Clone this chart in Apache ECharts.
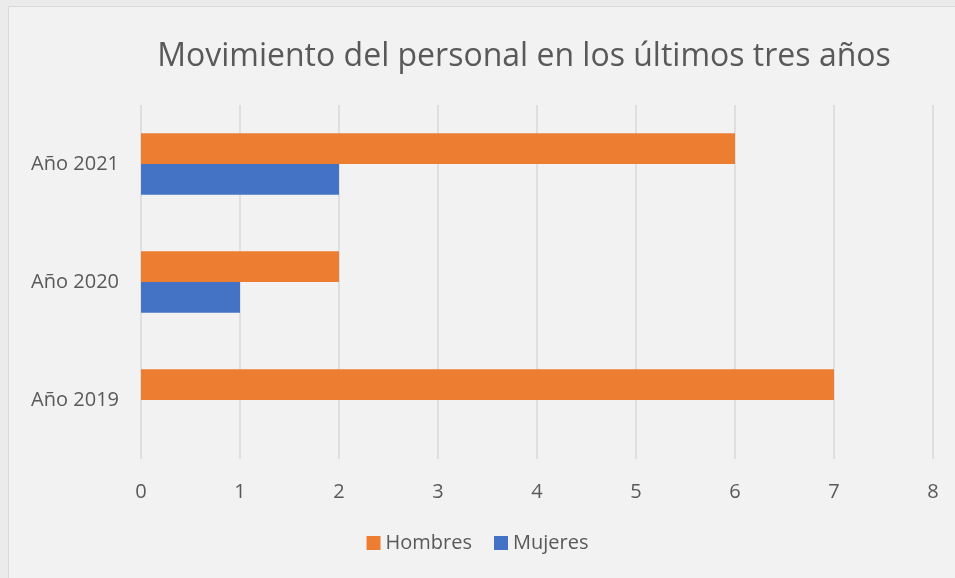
<!DOCTYPE html>
<html>
<head>
<meta charset="utf-8">
<script src="https://cdn.jsdelivr.net/npm/echarts@6/dist/echarts.min.js"></script>
<style>
  html, body { margin: 0; padding: 0; background: #ebebeb; }
  #main { width: 955px; height: 578px; }
</style>
</head>
<body>
<div id="main"></div>
<script>
var categories = ['Año 2019', 'Año 2020', 'Año 2021'];
var hombres = [7, 2, 6];
var mujeres = [0, 1, 2];
var xTicks = [0, 1, 2, 3, 4, 5, 6, 7, 8];

var chart = echarts.init(document.getElementById('main'));
var font = '"Open Sans", "Liberation Sans", sans-serif';

var option = {
  backgroundColor: '#ebebeb',
  textStyle: { fontFamily: font },
  graphic: [{
    type: 'rect',
    z: -10,
    shape: { x: 8.5, y: 6.5, width: 960, height: 580 },
    style: { fill: '#f2f2f2', stroke: '#d9d9d9', lineWidth: 1 }
  }],
  title: {
    text: 'Movimiento del personal en los últimos tres años',
    left: 519,
    textAlign: 'center',
    top: 36,
    textStyle: { fontFamily: font, fontSize: 32, fontWeight: 'normal', color: '#595959' }
  },
  legend: {
    bottom: 20,
    left: 'center',
    icon: 'rect',
    itemWidth: 14,
    itemHeight: 14,
    itemGap: 22,
    textStyle: { fontFamily: font, fontSize: 20, color: '#595959' },
    data: ['Hombres', 'Mujeres']
  },
  grid: { left: 141, right: 22, top: 105, bottom: 119, containLabel: false },
  xAxis: {
    type: 'value',
    min: xTicks[0],
    max: xTicks[xTicks.length - 1],
    interval: 1,
    axisLine: { show: false },
    axisTick: { show: false },
    axisLabel: { fontFamily: font, fontSize: 20, color: '#595959', margin: 23 },
    splitLine: { lineStyle: { color: '#d9d9d9', width: 1.5 } }
  },
  yAxis: {
    type: 'category',
    data: categories,
    axisLine: { show: false },
    axisTick: { show: false },
    axisLabel: { fontFamily: font, fontSize: 20, color: '#595959', margin: 22 }
  },
  series: [
    {
      name: 'Hombres',
      type: 'bar',
      data: hombres,
      barGap: '0%',
      barCategoryGap: '48%',
      itemStyle: { color: '#ed7d31' }
    },
    {
      name: 'Mujeres',
      type: 'bar',
      data: mujeres,
      itemStyle: { color: '#4472c4' }
    }
  ]
};
chart.setOption(option);
</script>
</body>
</html>
